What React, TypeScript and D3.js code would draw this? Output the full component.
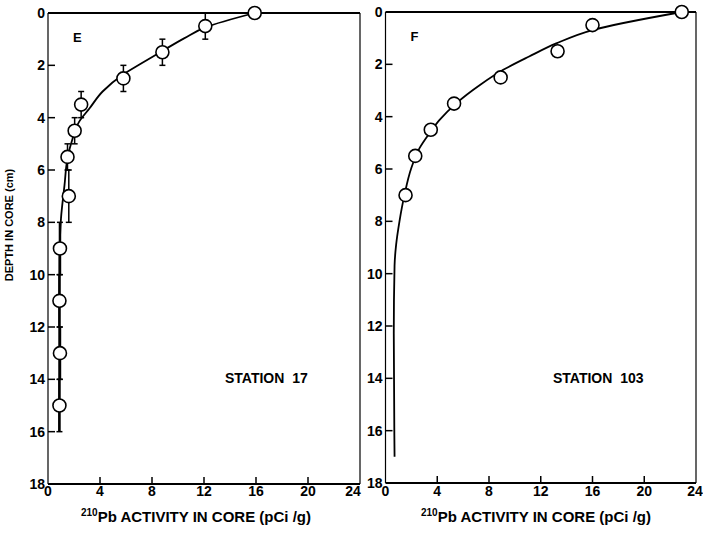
import React from 'react';
import * as d3 from 'd3';

// Station 17 (panel E): measured points with vertical error bars
const stn17Activity = [15.9, 12.1, 8.8, 5.8, 2.55, 2.05, 1.5, 1.6, 0.92, 0.88, 0.92, 0.88];
const stn17Depth = [0, 0.5, 1.5, 2.5, 3.5, 4.5, 5.5, 7, 9, 11, 13, 15];
const stn17Err = [0, 0.5, 0.5, 0.5, 0.5, 0.5, 0.5, 1, 1, 1, 1, 1];

// fitted curve
const stn17CurveActivity = [15.9, 12.1, 10.5, 8.8, 7.1, 5.75, 4.2, 3.2, 2.4, 1.9, 1.5, 1.27, 1.0, 0.92, 0.88, 0.86];
const stn17CurveDepth = [0, 0.55, 0.96, 1.45, 1.95, 2.36, 3.0, 3.64, 4.15, 4.79, 5.55, 6.58, 7.85, 8.6, 9.5, 16];

// Station 103 (panel F)
const stn103Activity = [22.9, 16.0, 13.3, 8.9, 5.3, 3.5, 2.3, 1.55];
const stn103Depth = [0, 0.5, 1.5, 2.5, 3.5, 4.5, 5.5, 7];

const stn103CurveActivity = [22.9, 16.0, 13.2, 11.1, 9.1, 7.3, 5.47, 4.18, 3.4, 2.63, 1.99, 1.47, 1.08, 0.82, 0.7, 0.64, 0.7];
const stn103CurveDepth = [0, 0.69, 1.2, 1.7, 2.21, 2.79, 3.49, 4.12, 4.63, 5.2, 5.97, 6.98, 8.0, 8.9, 9.7, 12.3, 17.0];

const xTicks = [0, 4, 8, 12, 16, 20, 24];
const yTicks = [0, 2, 4, 6, 8, 10, 12, 14, 16, 18];

const FONT = '"Liberation Sans", Arial, sans-serif';

type PanelProps = {
  x0: number; x1: number; y0: number; y1: number;
  letter: string; station: string; stationX: number;
  act: number[]; depth: number[]; err?: number[];
  curveAct: number[]; curveDepth: number[];
  lastXLabelShift: number;
  titleX: number;
};

function Panel(p: PanelProps) {
  const x = d3.scaleLinear().domain([0, 24]).range([p.x0, p.x1]);
  const y = d3.scaleLinear().domain([0, 18]).range([p.y0, p.y1]);

  const curvePts = p.curveAct.map((a, i) => [a, p.curveDepth[i]] as [number, number]);
  const line = d3.line<[number, number]>()
    .x(d => x(d[0]))
    .y(d => y(d[1]))
    .curve(d3.curveMonotoneY);

  return (
    <g>
      {/* frame */}
      <line x1={x(0)} x2={x(0)} y1={y(0)} y2={y(18)} stroke="#000" strokeWidth={1.2} />
      <line x1={x(24)} x2={x(24)} y1={y(0)} y2={y(18)} stroke="#000" strokeWidth={1.2} />
      <line x1={x(0)} x2={x(24)} y1={y(0)} y2={y(0)} stroke="#000" strokeWidth={2} />
      <line x1={x(0)} x2={x(24)} y1={y(18)} y2={y(18)} stroke="#000" strokeWidth={2} />

      {/* ticks, pointing inward */}
      {yTicks.filter(t => t > 0 && t < 18).map(t => (
        <line key={'yt' + t} x1={x(0)} x2={x(0) + 7} y1={y(t)} y2={y(t)} stroke="#000" strokeWidth={1.5} />
      ))}
      {xTicks.filter(t => t > 0 && t < 24).map(t => (
        <line key={'xt' + t} x1={x(t)} x2={x(t)} y1={y(18)} y2={y(18) - 7} stroke="#000" strokeWidth={1.5} />
      ))}

      {/* tick labels */}
      {yTicks.map(t => (
        <text key={'yl' + t} x={x(0) - 3} y={y(t)} dy="0.36em" textAnchor="end"
          fontFamily={FONT} fontWeight="bold" fontSize={14}>{t}</text>
      ))}
      {xTicks.map(t => (
        <text key={'xl' + t} x={x(t) + (t === 24 ? p.lastXLabelShift : 0)} y={496} textAnchor="middle"
          fontFamily={FONT} fontWeight="bold" fontSize={14}>{t}</text>
      ))}

      {/* x title */}
      <text x={p.titleX} y={522} textAnchor="middle" fontFamily={FONT} fontWeight="bold" fontSize={15}>
        <tspan fontSize={10} dy="-6">210</tspan>
        <tspan dy="6">Pb ACTIVITY IN CORE (pCi /g)</tspan>
      </text>

      {/* panel letter and station */}
      <text x={x(0) + 25} y={y(0) + 29} fontFamily={FONT} fontWeight="bold" fontSize={13}>{p.letter}</text>
      <text x={p.stationX} y={383} fontFamily={FONT} fontWeight="bold" fontSize={14} xmlSpace="preserve">{p.station}</text>

      {/* error bars */}
      {p.err && p.act.map((a, i) => p.err![i] > 0 && (
        <g key={'e' + i} stroke="#000" strokeWidth={i >= 8 ? 2.5 : 1.5}>
          <line x1={x(a)} x2={x(a)} y1={y(p.depth[i] - p.err![i])} y2={y(p.depth[i] + p.err![i])} />
          <line x1={x(a) - 3} x2={x(a) + 3} y1={y(p.depth[i] - p.err![i])} y2={y(p.depth[i] - p.err![i])} strokeWidth={1.5} />
          <line x1={x(a) - 3} x2={x(a) + 3} y1={y(p.depth[i] + p.err![i])} y2={y(p.depth[i] + p.err![i])} strokeWidth={1.5} />
        </g>
      ))}

      {/* fitted curve */}
      <path d={line(curvePts) || ''} fill="none" stroke="#000" strokeWidth={1.8} />

      {/* points */}
      {p.act.map((a, i) => (
        <circle key={'c' + i} cx={x(a)} cy={y(p.depth[i])} r={6.5} fill="#fff" stroke="#000" strokeWidth={1.6} />
      ))}
    </g>
  );
}

export default function App() {
  return (
    <svg width={703} height={538} style={{ display: 'block', position: 'absolute', left: 0, top: 0, background: '#fff' }}>
      <rect width={703} height={538} fill="#fff" />
      <text transform="translate(13,225) rotate(-90)" textAnchor="middle" fontFamily={FONT} fontWeight="bold" fontSize={11}>
        DEPTH IN CORE (cm)
      </text>
      <Panel x0={48} x1={360} y0={13} y1={484} letter="E" station="STATION  17" stationX={225}
        act={stn17Activity} depth={stn17Depth} err={stn17Err}
        curveAct={stn17CurveActivity} curveDepth={stn17CurveDepth}
        lastXLabelShift={-7} titleX={196} />
      <Panel x0={385.5} x1={696} y0={12} y1={483} letter="F" station="STATION  103" stationX={553}
        act={stn103Activity} depth={stn103Depth}
        curveAct={stn103CurveActivity} curveDepth={stn103CurveDepth}
        lastXLabelShift={-1} titleX={536} />
    </svg>
  );
}
